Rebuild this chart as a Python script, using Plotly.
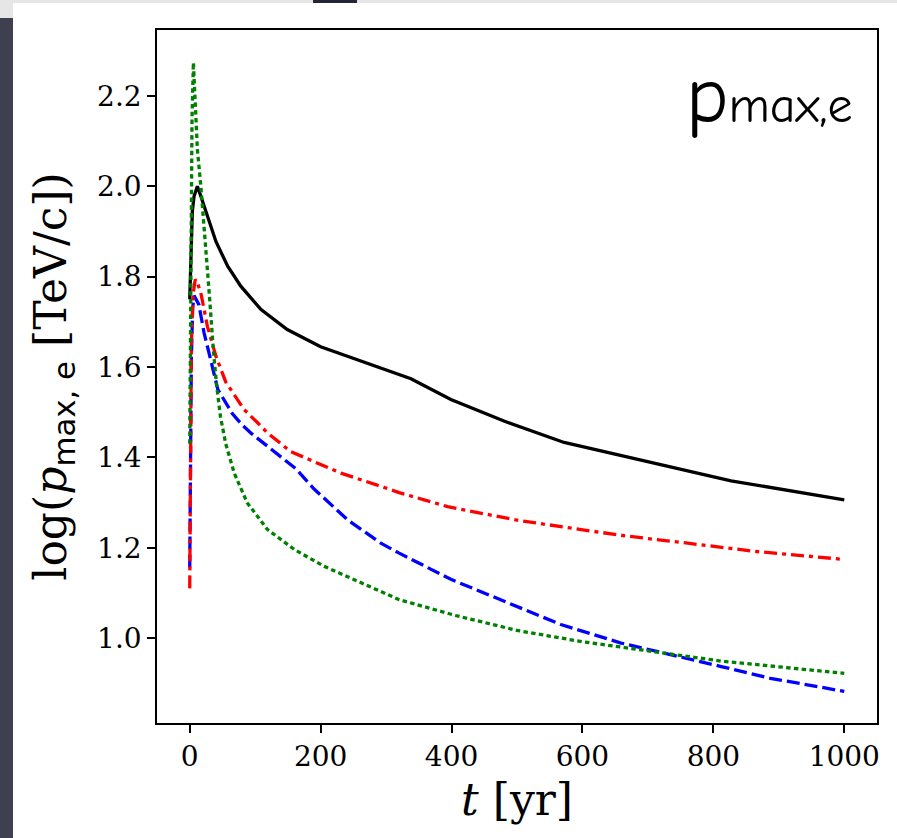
import plotly.graph_objects as go

# ---- data ----
t_black = [0, 2, 4, 6.6, 11.7, 17, 27, 40, 58, 78, 109, 149, 200, 261, 300, 338, 399, 481, 572, 672, 710, 827, 1000]
v_black = [1.75, 1.85, 1.945, 1.978, 2.0, 1.978, 1.934, 1.878, 1.823, 1.779, 1.727, 1.683, 1.645, 1.613, 1.594,
           1.574, 1.528, 1.480, 1.433, 1.399, 1.386, 1.348, 1.306]

t_red = [0, 1, 2.5, 5, 8.5, 12, 17, 27, 40, 55, 83, 104, 119, 154, 180, 231, 292, 320, 394, 496, 598, 672, 761, 863, 1000]
v_red = [1.11, 1.40, 1.65, 1.76, 1.794, 1.785, 1.764, 1.690, 1.624, 1.567, 1.506, 1.476, 1.454, 1.413, 1.397,
         1.365, 1.336, 1.322, 1.291, 1.262, 1.240, 1.225, 1.210, 1.192, 1.174]

t_blue = [0, 1, 2.5, 4.5, 6.6, 14, 22, 32, 43, 65, 80, 95, 130, 162, 190, 241, 292, 320, 399, 476, 567, 659, 725,
          812, 887, 1000]
v_blue = [1.156, 1.40, 1.62, 1.73, 1.758, 1.738, 1.675, 1.616, 1.550, 1.497, 1.472, 1.452, 1.412, 1.375, 1.330,
          1.262, 1.210, 1.188, 1.130, 1.085, 1.030, 0.989, 0.967, 0.937, 0.911, 0.882]

t_green = [0, 1, 2, 3.5, 5.6, 7.5, 9.2, 11.7, 17, 24, 30, 36, 41, 47, 55, 68, 88, 119, 160, 205, 261, 320, 406,
           500, 595, 659, 725, 812, 1000]
v_green = [1.43, 1.70, 1.95, 2.15, 2.274, 2.22, 2.170, 2.081, 2.0, 1.88, 1.76, 1.64, 1.56, 1.49, 1.43, 1.365,
           1.299, 1.240, 1.196, 1.159, 1.122, 1.085, 1.050, 1.017, 0.993, 0.980, 0.967, 0.949, 0.922]

x_ticks = [0, 200, 400, 600, 800, 1000]
y_ticks = [1.0, 1.2, 1.4, 1.6, 1.8, 2.0, 2.2]

fig = go.Figure()
fig.add_trace(go.Scatter(x=t_black, y=v_black, mode="lines",
                         line=dict(color="black", width=3.3)))
fig.add_trace(go.Scatter(x=t_blue, y=v_blue, mode="lines",
                         line=dict(color="#0000ff", width=3.3, dash="13px,5px")))
fig.add_trace(go.Scatter(x=t_red, y=v_red, mode="lines",
                         line=dict(color="#ff0000", width=3.3, dash="13px,5px,4px,5px")))
fig.add_trace(go.Scatter(x=t_green, y=v_green, mode="lines",
                         line=dict(color="#008000", width=3.3, dash="4.5px,3.3px")))

tickfont = dict(family="DejaVu Serif", size=28, color="black")
titlefont = dict(family="DejaVu Serif", size=44, color="black")

fig.update_layout(
    width=897, height=838,
    margin=dict(l=157, r=20, t=30, b=115),
    paper_bgcolor="white", plot_bgcolor="white",
    showlegend=False,
    xaxis=dict(range=[-50, 1050], tickvals=x_ticks, ticks="outside", ticklen=8, tickwidth=1.5,
               tickcolor="black", showline=True, linecolor="black", linewidth=1.5, mirror=True,
               showgrid=False, zeroline=False, tickfont=tickfont,
               title=dict(text="<i>t</i> [yr]", font=titlefont, standoff=12)),
    yaxis=dict(range=[0.812, 2.346], tickvals=y_ticks, tickformat=".1f", ticks="outside", ticklen=8,
               tickwidth=1.5, tickcolor="black", showline=True, linecolor="black", linewidth=1.5,
               mirror=True, showgrid=False, zeroline=False, tickfont=tickfont,
               title=dict(text="log(<i>p</i><sub><span style=\"font-family:DejaVu Sans\">max, e</span></sub> [TeV/c])",
                          font=titlefont, standoff=17)),
)

fig.add_annotation(xref="paper", yref="paper", x=0.969, y=(723 - 144) / 693, xanchor="right", yanchor="bottom",
                   text="p<span style=\"font-size:50px\">max,e</span>", showarrow=False,
                   font=dict(family="Comic Sans MS, Comic Neue, Noto Sans", size=80, color="black"))

# screenshot frame artefacts around the figure
def px(xp):
    return (xp - 157) / 720

def py(yp):
    return (723 - yp) / 693

fig.add_shape(type="rect", xref="paper", yref="paper", x0=px(0), x1=px(897), y0=py(3), y1=py(0),
              fillcolor="#e6e6e6", line_width=0, layer="below")
fig.add_shape(type="rect", xref="paper", yref="paper", x0=px(0), x1=px(13), y0=py(18), y1=py(0),
              fillcolor="#e6e6e6", line_width=0, layer="below")
fig.add_shape(type="rect", xref="paper", yref="paper", x0=px(0), x1=px(13), y0=py(838), y1=py(18),
              fillcolor="#3e3f4f", line_width=0, layer="below")
fig.add_shape(type="rect", xref="paper", yref="paper", x0=px(313), x1=px(357), y0=py(3), y1=py(0),
              fillcolor="#25253a", line_width=0, layer="below")

fig.write_html("out.html", config={"displayModeBar": False},
               post_script="document.body.style.margin='0';document.body.style.overflow='hidden';")
